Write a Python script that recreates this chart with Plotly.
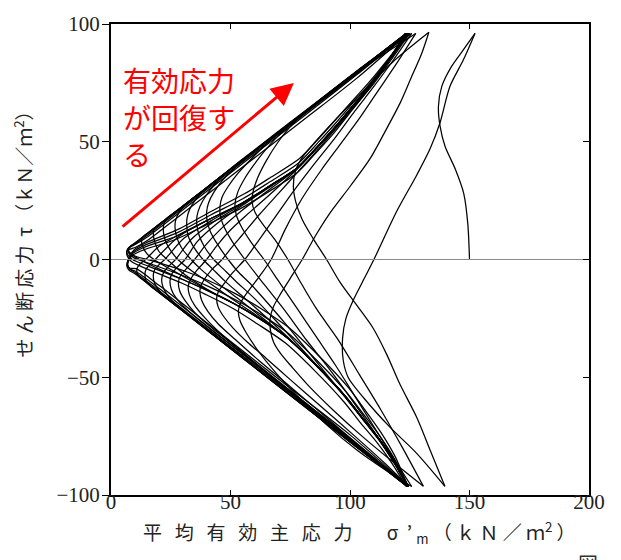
import plotly.graph_objects as go

# stress path, (p', tau) pairs, one list per half cycle (tip to tip)
seg00 = [(150, 0), (149.3, 15), (147.6, 28), (144, 38.5), (139.8, 48), (137.7, 56.5), (137, 65),
         (138.4, 73.5), (142.5, 82), (147.4, 89), (152.3, 96)]
seg01 = [(152.3, 96), (147.4, 84.7), (141.8, 73.5), (137.7, 58.2), (133.5, 47), (127.9, 35.8), (119.5, 20.4),
         (110, 0), (106, -8), (101.5, -17), (98.3, -25), (96.9, -33.4), (97.2, -43), (99.3, -50.2),
         (105.6, -58.6), (116.7, -71.2), (127.9, -82.3), (139.7, -96.3)]
seg02 = [(139.7, -96.3), (133.5, -80.9), (127.9, -67), (120.9, -53), (115.4, -40.4), (109.7, -29.2),
         (102.8, -19.4), (95.8, -9.6), (90.2, 0), (84.5, 9), (80, 17), (77.3, 24.5), (76.3, 31), (77.3, 38),
         (80.5, 44), (85.5, 50), (96, 61.6), (107, 72.8), (118, 84), (133, 96.5)]
seg03 = [(133, 96.5), (130, 87.5), (125.5, 77), (121, 66.5), (114.5, 54), (108.4, 42.8), (100, 31), (91.6, 19.7),
         (85.5, 10), (80, 0), (75, -8), (71, -14.5), (68, -20), (66.6, -25), (66.7, -30), (68, -35), (71, -40),
         (76, -46), (83, -54), (93, -64), (105, -75), (118, -86), (130.7, -96.3)]
seg04 = [(130.7, -96.3), (122, -80), (113, -64), (104, -49), (95, -34), (86, -21), (79.5, -10), (74, 0),
         (68.5, 8.5), (63.5, 15), (60.3, 20), (59, 24.5), (59.5, 29), (61.5, 35), (65, 42), (70, 50),
         (76, 57.5), (84, 64.5), (95, 73), (108, 83), (127.5, 96)]
seg05 = [(127.5, 96), (120, 84), (112, 72), (104, 60), (96, 49), (88, 38), (80, 26), (73, 13), (67, 0),
         (61.5, -8), (57, -14), (54.2, -18.5), (53.3, -22), (54, -26), (56.5, -31), (61, -38), (68, -47),
         (78, -58), (90, -70), (103, -81), (115, -89.5), (125.8, -96.4)]
seg06 = [(125.8, -96.4), (118, -84), (110, -71), (102, -58), (94, -45), (86, -33), (78, -21), (70, -9), (64, 0),
         (58.5, 7.5), (54.5, 14), (52.4, 19), (51.9, 23.5), (53, 28.5), (56, 34.5), (60, 40.5), (65, 47),
         (72, 54.5), (82, 63), (95, 73.5), (110, 85), (125.8, 96)]
seg07 = [(125.8, 96), (118, 84.5), (110, 73.5), (102, 63), (94, 52), (85, 40.5), (76, 28.5), (68, 17), (61, 7),
         (56, 0), (51, -5.5), (47.5, -10), (45, -13.5), (44.2, -16.5), (44.8, -20), (47, -24), (51, -29),
         (57, -35), (65, -42), (75, -51), (88, -62.5), (102, -75), (114, -86), (124.5, -96.4)]
seg08 = [(124.5, -96.4), (117, -84), (109, -71.5), (100, -58.5), (91, -46), (82, -34.5), (73, -22), (64, -10.5),
         (56, 0), (50.5, 8), (47, 14.5), (45.7, 19), (45.6, 22.5), (46.5, 26.5), (49, 31), (53, 36.5), (59, 43),
         (66, 50), (75, 57.5), (86, 66), (100, 77), (112, 86.5), (125, 96)]
seg09 = [(125, 96), (117, 84.5), (109, 73.5), (101.5, 64.5), (94, 55.5), (86, 46), (78, 37), (70, 28), (62, 19),
         (55, 10.5), (50, 4.5), (46.5, 0), (42, -4.5), (39, -8.5), (37.5, -11.5), (37.2, -14), (38, -17.5),
         (40.5, -22), (45, -27.5), (52, -34), (62, -43), (75, -54), (90, -67), (106, -81), (124.3, -96.4)]
seg10 = [(124.3, -96.4), (118, -85.5), (112, -76.5), (105, -67.5), (98, -58.5), (90, -48.5), (82, -38.5),
         (74, -28.5), (66, -19), (58, -10), (53, -5), (49, 0), (44.5, 6.5), (41.5, 12), (40.2, 16.5), (40, 20),
         (40.8, 24), (43, 28.5), (47, 34), (53, 40), (60, 46), (70, 54), (82, 63.5), (96, 74.5), (110, 85),
         (124.5, 96)]
seg11 = [(124.5, 96), (116.5, 84.5), (108.5, 73.5), (101, 64.5), (93.5, 55.5), (85.5, 46.5), (77.5, 38), (68, 29),
         (58, 20), (50, 12.5), (44, 5.5), (40, 0), (36, -4.5), (33.5, -8), (32.3, -11.5), (32.8, -15),
         (35, -19.5), (39.5, -25), (46, -31.5), (55, -39.5), (68, -50.5), (84, -63.5), (103, -79), (124.2, -96.4)]
seg12 = [(124.2, -96.4), (118, -85.3), (112, -76.3), (105, -67.3), (98, -58.3), (88, -47), (78, -36), (69, -26),
         (60, -16.5), (52, -9), (47, -4), (43, 0), (39, 5.5), (36.8, 10.5), (35.9, 15), (36, 18.5), (37.2, 22.5),
         (40, 27.5), (44, 32.5), (50, 38.5), (60, 46.5), (74, 57.5), (90, 70), (106, 82.5), (124.3, 96)]
seg13 = [(124.3, 96), (116.3, 84.5), (108.3, 73.5), (101, 64.8), (93.7, 56), (85.7, 47), (77.7, 38.5), (66, 29.5),
         (55, 21), (46, 13), (39.5, 6), (35, 0), (31.5, -4), (29, -7), (28.2, -10), (28.8, -13.5), (31, -17.5),
         (35, -22.5), (41, -28), (49, -34.5), (60, -43.5), (76, -56.5), (98, -74.5), (124, -96.4)]
seg14 = [(124, -96.4), (118, -85.2), (112, -76.2), (105, -67.2), (98, -58.2), (86, -45.2), (76, -35), (66, -25.5),
         (56, -16.5), (48, -9.5), (42.5, -4), (38.5, 0), (34.5, 5.5), (32.3, 10), (31.7, 14.5), (31.8, 17.5),
         (33, 21.5), (35.5, 25.5), (39.5, 30), (45, 34.5), (54, 41.5), (68, 52.5), (86, 66.5), (105, 81.5),
         (124, 96)]
seg15 = [(124, 96), (116.2, 84.5), (108.2, 73.5), (101, 65), (93.8, 56.2), (85.8, 47.2), (77.8, 38.8), (66, 30.5),
         (55, 23), (44, 15), (36, 7.5), (31, 0), (27.5, -3.5), (25.5, -6), (24.7, -9), (25.2, -12.5), (27, -16),
         (30.5, -20), (36, -25), (44, -31.5), (56, -41), (74, -55.5), (97, -74), (124, -96.4)]
seg16 = [(124, -96.4), (118, -85.1), (112, -76.1), (105, -67.1), (98, -58.1), (86, -45.1), (74, -33.5),
         (63, -24.5), (53, -16.5), (44, -9.5), (38, -4.5), (33.5, 0), (29.5, 5), (27.5, 9.5), (26.8, 13.5),
         (27, 16.5), (28.5, 20), (31, 23.2), (35, 26.5), (41, 31.2), (50, 38.3), (64, 49.3), (82, 63.4),
         (102, 79.1), (123.8, 96)]
seg17 = [(123.8, 96), (116, 84.5), (108, 73.5), (101, 65), (94, 56.5), (86, 47.5), (78, 39), (66, 30.8),
         (55, 23.5), (43, 16), (33.5, 8.5), (27, 0), (24, -3), (22, -5.5), (21.2, -8.5), (21.7, -11.5),
         (23.5, -15), (27, -19), (33, -24), (42, -31), (55, -41), (74, -56), (97, -74.5), (124, -96.4)]
seg18 = [(124, -96.4), (118, -85), (112, -76), (105, -67), (98, -58), (86, -45), (73.5, -33), (62, -24.5),
         (51, -17), (42, -10.5), (34, -5), (28, 0), (24.5, 4.5), (22.6, 8.5), (21.9, 12), (22.1, 15),
         (23.2, 17.3), (26, 19.5), (30, 22.6), (36, 27.3), (46, 35.2), (62, 47.7), (82, 63.4), (102, 79.1),
         (123.6, 96)]
seg19 = [(123.6, 96), (116, 84.5), (108, 73.5), (101, 65), (94, 56.5), (86, 47.5), (78, 39), (66, 31), (55, 24),
         (42, 16.5), (30.5, 9), (22.5, 0), (19.8, -2.5), (18.2, -4.5), (17.7, -7), (18.2, -10), (20, -13),
         (23.5, -16.5), (29.5, -21.5), (39, -29), (53, -40.1), (72, -55.2), (96, -74.3), (124, -96.4)]
seg20 = [(124, -96.4), (118, -85), (112, -76), (105, -67), (98, -58), (86, -45), (73.5, -33), (62, -25),
         (51, -18.5), (40, -12.5), (31, -6.5), (23.5, 0), (20, 3.5), (18.3, 7.5), (17.7, 10.8), (18, 13),
         (19.5, 14.4), (23, 17.1), (29, 21.8), (38, 28.9), (50, 38.3), (66, 50.8), (84, 65), (103, 79.9),
         (123.5, 96)]
seg21 = [(123.5, 96), (116, 84.5), (108, 73.5), (101, 65), (94, 56.5), (86, 47.5), (78, 39), (66, 31), (55, 24),
         (41, 17), (28, 9.5), (18.5, 0), (16, -2.5), (14.7, -4), (14.2, -6.5), (14.7, -9.2), (16.5, -11.3),
         (20, -14), (26, -18.7), (36, -26.6), (50, -37.8), (70, -53.7), (95, -73.5), (124, -96.4)]
seg22 = [(124, -96.4), (118, -85), (112, -76), (105, -67), (98, -58), (86, -45), (73.5, -33), (62, -25),
         (51, -18.5), (40, -12.8), (29, -6.5), (18, 0), (15, 2.5), (13.3, 5.5), (12.8, 8.3), (13.5, 9.7),
         (16, 11.6), (21, 15.6), (30, 22.6), (44, 33.6), (62, 47.7), (82, 63.4), (102, 79.1), (123.5, 96)]
seg23 = [(123.5, 96), (116, 84.5), (108, 73.5), (101, 65), (94, 56.5), (86, 47.5), (78, 39), (66, 31), (55, 24),
         (41, 17), (27.5, 10), (20, 5.5), (14.5, 0), (12, -2), (11, -3.5), (10.8, -5), (11.4, -7), (13.5, -8.7),
         (17.5, -11.9), (24, -17.1), (34, -25), (48, -36.2), (68, -52.1), (94, -72.7), (124, -96.4)]
seg24 = [(124, -96.4), (118, -85), (112, -76), (105, -67), (98, -58), (86, -45), (73.5, -33), (62, -25),
         (51, -18.5), (40, -13), (30, -8.5), (20, -4), (12, 0), (9, 1.8), (7.6, 3), (7.3, 4.5), (8, 5.5),
         (10.5, 7.3), (15, 10.9), (22, 16.3), (32, 24.2), (46, 35.2), (63, 48.5), (82, 63.4), (102, 79.1),
         (123.5, 96)]
# late cycles (cyclic mobility), all passing the corner near the origin
seg25 = [(123.5, 96), (116, 84.5), (108, 73.5), (101, 65), (94, 56.5), (86, 47.5), (78, 39), (66, 31), (55, 24),
         (41, 17), (27.5, 10), (13.5, 5), (9, 2.5), (7.3, 0), (6.6, -2.6), (7.5, -4.5), (10, -6), (20, -13.9),
         (40, -29.8), (60, -45.7), (80, -61.6), (100, -77.5), (124, -96.4)]
seg26 = [(124, -96.4), (118, -85), (112, -76), (105, -67), (98, -58), (86, -45), (73.5, -33), (62, -25),
         (51, -18.5), (40, -13), (30, -8.5), (16, -3), (9, 0), (7, 2), (6.6, 3.8), (7.5, 5), (10, 7), (15, 10.9),
         (22, 16.3), (32, 24.2), (46, 35.2), (63, 48.5), (82, 63.4), (102, 79.1), (123.5, 96)]
seg27 = [(124, 96), (116.5, 85.5), (108.5, 75), (101.5, 66.8), (94.5, 58.5), (86.5, 49.5), (78.5, 41),
         (66.5, 33), (55.5, 26), (41.5, 18.8), (28, 11.5), (14, 6), (9.3, 3.2), (7.6, 0.5), (7, -2.3), (7.9, -4),
         (10.3, -5), (20.3, -12.4), (40.3, -28.3), (60.3, -44.2), (80.3, -60.1), (100.3, -76), (124.5, -96.4)]
seg28 = [(124.5, -96.4), (118.5, -84.5), (112.5, -75), (105.5, -65.5), (98.5, -56.3), (86.5, -43.2),
         (74, -31.2), (62.5, -23.2), (51.5, -16.8), (40.5, -11.3), (30.5, -7), (16.5, -1.8), (9.5, 0.8),
         (7.5, 2.6), (7, 4.2), (8, 5.2), (10.5, 6.6), (15.5, 9.8), (22.5, 15.2), (32.5, 23), (46.5, 34),
         (63.5, 47.4), (82.5, 62.3), (102.5, 78.2), (124, 96)]
seg29 = [(123, 96), (115.5, 83.5), (107.5, 72), (100.5, 63), (93.5, 54), (85.5, 45), (77.5, 36.5), (65.5, 28.5),
         (54.5, 21.8), (40.5, 15), (27, 8.5), (13.5, 4), (9, 1.8), (7.4, -0.5), (6.9, -2.2), (7.8, -3.6),
         (10.5, -3.9), (20.5, -11.3), (40.5, -27.2), (60.5, -43.1), (80.5, -59), (100.5, -74.9), (124.5, -96.4)]
seg30 = [(123.5, -96.4), (117.5, -86.5), (111.5, -78), (104.5, -69.5), (97.5, -60.5), (85.5, -47.5),
         (73, -35.5), (61.5, -27.5), (50.5, -20.5), (39.5, -14.8), (29.5, -10), (15.5, -4.2), (8.7, -1),
         (6.9, 1.3), (6.6, 3.2), (7.6, 4.2), (10.3, 5.2), (15.5, 8.3), (22.5, 13.7), (32.5, 21.5), (46.5, 32.5),
         (63.5, 45.9), (82.5, 60.8), (102.5, 76.7), (124.3, 96)]
seg31 = [(124.5, 96), (117, 86.5), (109, 76.5), (102, 68.5), (95, 60.5), (87, 51.5), (79, 43), (67, 35), (56, 28),
         (42, 20.5), (28.5, 13), (14.5, 7), (9.5, 4), (7.6, 1), (6.8, -2), (7.7, -4), (10.1, -5.5), (20.1, -13.3),
         (40.1, -29.1), (60.1, -45), (80.1, -60.9), (100.1, -76.8), (124.2, -96.4)]
seg32 = [(124.2, -96.4), (118.8, -83.5), (113, -73.5), (106, -63.5), (99, -54), (87, -41), (74.5, -29), (63, -21),
         (52, -14.5), (41, -9), (31, -5), (17, -0.5), (10, 1.5), (7.8, 3), (7, 4.3), (8, 5.5), (10.3, 6.8),
         (15.3, 10.4), (22.3, 15.8), (32.3, 23.7), (46.3, 34.6), (63.3, 47.9), (82.3, 62.8), (102.3, 78.5),
         (123.8, 96)]

segments = [seg00, seg01, seg02, seg03, seg04, seg05, seg06, seg07, seg08, seg09, seg10, seg11, seg12,
            seg13, seg14, seg15, seg16, seg17, seg18, seg19, seg20, seg21, seg22, seg23, seg24, seg25,
            seg26, seg27, seg28, seg29, seg30, seg31, seg32]

x_ticks = [0, 50, 100, 150, 200]
y_ticks = [-100, -50, 0, 50, 100]
x_title_words = "平均有効主応力"
y_title_words = "せん断応力"
note_lines = ["有効応力", "が回復す", "る"]
note_tau = [76.3, 60.6, 44.7]
arrow_from = (4.2, 13.4)
arrow_to = (76.5, 75)

fig = go.Figure()

fig.add_trace(go.Scatter(x=[0, 200], y=[0, 0], mode="lines", yaxis="y2",
                         line=dict(color="#8a8a8a", width=1), hoverinfo="skip"))

for seg in segments:
    fig.add_trace(go.Scatter(
        x=[p for p, t in seg], y=[t for p, t in seg], mode="lines",
        line=dict(color="black", width=1.25, shape="spline", smoothing=0.8),
        hoverinfo="skip",
    ))

tickfont = dict(family="Liberation Serif", size=21, color="#222")
nb = "\u00a0"

fig.update_layout(
    width=621, height=560,
    margin=dict(l=111, r=32, t=18, b=65),
    paper_bgcolor="white", plot_bgcolor="white",
    showlegend=False,
    xaxis=dict(range=[0, 200], tickvals=x_ticks, ticks="inside", ticklen=5, tickcolor="black",
               showline=True, linecolor="black", linewidth=2, mirror="ticks",
               showgrid=False, zeroline=False, tickfont=tickfont, ticklabelstandoff=-13),
    yaxis=dict(range=[-100, 100], tickvals=y_ticks, ticks="outside", ticklen=7, tickcolor="black",
               showline=True, linecolor="black", linewidth=2, mirror=True,
               showgrid=False, zeroline=False, tickfont=tickfont, ticklabelstandoff=-2),
    yaxis2=dict(range=[-100, 100], overlaying="y", side="right", tickvals=y_ticks, ticks="inside",
                ticklen=6, tickcolor="black", showticklabels=False, showline=False,
                showgrid=False, zeroline=False),
)

x_title = ((nb * 3).join(x_title_words) + nb * 8 + "σ" + nb * 2 + "’" + nb + "<sub>m</sub>" + nb
           + nb.join("（ｋＮ／ｍ") + "<sup>2</sup>" + nb + "）")
y_title = nb.join(y_title_words) + nb * 2 + "τ" + nb + "（ｋＮ／ｍ<sup>2</sup>）"

fig.add_annotation(xref="paper", yref="paper", x=0.52, y=-0.08, xanchor="center", yanchor="middle",
                   text=x_title, showarrow=False,
                   font=dict(family="Noto Sans CJK JP", size=19, color="#222"))
fig.add_annotation(xref="paper", yref="paper", x=-0.184, y=0.564, xanchor="center", yanchor="middle",
                   text=y_title, showarrow=False, textangle=-90,
                   font=dict(family="Noto Sans CJK JP", size=19, color="#222"))

for line, tau in zip(note_lines, note_tau):
    fig.add_annotation(xref="x", yref="y", x=4.0, y=tau, xanchor="left", yanchor="middle",
                       text=line, showarrow=False,
                       font=dict(family="Noto Sans CJK JP", size=28, color="#ff0000"))
fig.add_annotation(xref="x", yref="y", axref="x", ayref="y", x=arrow_to[0], y=arrow_to[1],
                   ax=arrow_from[0], ay=arrow_from[1], text="", showarrow=True,
                   arrowhead=2, arrowsize=1.5, arrowwidth=3, arrowcolor="#ff0000")

fig.add_annotation(xref="paper", yref="paper", x=0.972, y=-0.111, xanchor="left", yanchor="top",
                   text="図", showarrow=False, font=dict(family="Noto Sans CJK JP", size=20, color="#333"))
fig.add_annotation(xref="paper", yref="paper", x=1.035, y=-0.125, xanchor="left", yanchor="top",
                   text="—", showarrow=False, font=dict(family="Noto Sans CJK JP", size=20, color="#999"))

fig.write_html("out.html", config={"displayModeBar": False},
               post_script="document.body.style.margin='0px';")
